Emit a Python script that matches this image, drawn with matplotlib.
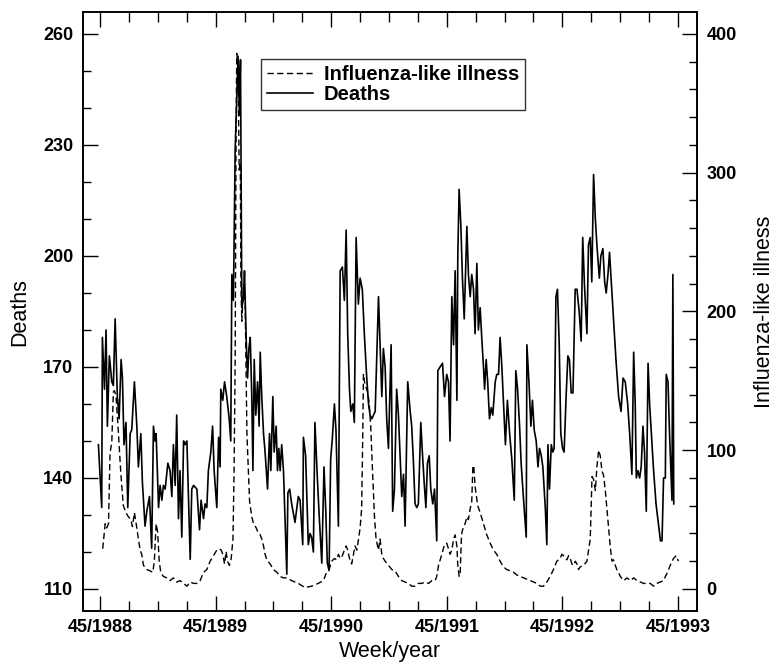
import matplotlib
matplotlib.use('Agg')
import matplotlib.pyplot as plt
from matplotlib.ticker import FixedLocator, MultipleLocator

plt.rcParams['font.family'] = ['Liberation Sans', 'DejaVu Sans']

# (weeks after week 45/1988, value)
deaths_8889 = [
    (-0.75, 149), (0.75, 132), (1.05, 178), (2, 164), (2.7, 180), (3.3, 154), (4.2, 173),
    (5.3, 166), (6, 165), (6.8, 183), (7.8, 162), (8.6, 156), (9.5, 172), (10.1, 167),
    (10.8, 149), (11.7, 155), (12.5, 132), (13.6, 152), (14.3, 153), (15.5, 166), (16.6, 154),
    (17.3, 143), (18.4, 152), (19.1, 139), (20.3, 127), (21.1, 131), (22.3, 135), (23.3, 121),
    (24.1, 154), (24.8, 150), (25.3, 152), (26.4, 132), (27.1, 138), (27.9, 134), (28.6, 138),
    (29.4, 137), (30.6, 144), (31.6, 142), (32.4, 135), (33.1, 149), (33.9, 138), (34.6, 157),
    (35.4, 129), (36.1, 142), (36.9, 124), (37.7, 150), (38.4, 149), (39.2, 150), (40.7, 118),
    (41.4, 137), (42.2, 138), (43.7, 137), (44.9, 126), (45.6, 134), (46.7, 129), (47.4, 133),
    (48.2, 132), (48.9, 142), (50, 147), (50.8, 154), (51.5, 142),
]
deaths_8990 = [
    (52.7, 132), (53.5, 151), (54.2, 143), (54.5, 164), (55.4, 161), (56.2, 166), (57.2, 162),
    (58.3, 156), (59, 150), (59.5, 195), (60.2, 188), (61, 229), (62.3, 254), (62.9, 238),
    (63.4, 253), (64, 186), (64.8, 189), (65.2, 196), (66, 177), (66.6, 167), (67.2, 175),
    (67.8, 178), (68.5, 162), (69, 142), (69.6, 172), (70.3, 157), (71.1, 166), (71.8, 154),
    (72.3, 174), (73, 162), (73.8, 152), (74.5, 147), (75.6, 137), (76.5, 152), (77.1, 142),
    (78, 162), (78.6, 147), (79.5, 154), (80.1, 142), (80.7, 148), (81.3, 142), (82, 149),
    (82.8, 142), (84.3, 114), (84.8, 136), (85.6, 137), (86.5, 133), (88, 128), (89.5, 135),
    (90.3, 134), (91.5, 122), (91.8, 151), (92.8, 146), (94, 122), (94.8, 125), (95.5, 124),
    (96.3, 120), (97, 155), (98.1, 140), (99, 129), (100.1, 117), (101.1, 143), (101.9, 131),
    (102.6, 117), (103.4, 115),
]
deaths_9091 = [
    (104.1, 145), (104.9, 151), (105.8, 160), (106.5, 153), (107.6, 127), (108.4, 196),
    (109.4, 197), (110.3, 188), (111.1, 207), (111.8, 179), (112.6, 164), (113.2, 158),
    (114.1, 160), (114.8, 155), (115.6, 205), (116.6, 187), (117.4, 194), (118.4, 191),
    (119.3, 179), (120.4, 167), (121.2, 160), (121.9, 157), (122.7, 156), (124.2, 158),
    (125.7, 189), (126.4, 176), (127.2, 162), (127.9, 175), (128.7, 170), (129.4, 156),
    (130.2, 148), (131.4, 176), (132.1, 131), (132.9, 137), (133.9, 164), (134.7, 157),
    (135.5, 145), (136.2, 135), (137, 141), (137.7, 127), (138.9, 166), (140, 158),
    (140.7, 154), (141.5, 144), (142.2, 133), (143, 132), (143.7, 133), (144.8, 155),
    (145.5, 147), (146.3, 139), (147.1, 132), (147.8, 144), (148.6, 146), (149.3, 137),
    (150.2, 133), (151, 137), (152, 123), (152.5, 169), (153.5, 170), (154.6, 171),
    (155.5, 162),
]
deaths_9192 = [
    (156.5, 168), (157.3, 166), (158, 150), (158.8, 189), (159.6, 176), (160.3, 196),
    (161.1, 161), (161.5, 200), (162.1, 218), (162.9, 208), (163.6, 194), (164.4, 183),
    (165.6, 208), (166.3, 195), (167.1, 189), (167.8, 195), (168.6, 191), (169.3, 179),
    (170.1, 198), (170.8, 180), (171.6, 186), (172.4, 177), (173.1, 170), (173.6, 164),
    (174.3, 172), (175, 166), (175.8, 156), (176.6, 159), (177.3, 157), (178.4, 166),
    (179.1, 168), (179.9, 168), (180.6, 178), (181.4, 170), (182.1, 161), (183, 149),
    (183.9, 161), (184.9, 152), (185.9, 145), (187, 134), (187.7, 169), (188.5, 164),
    (189.4, 154), (190.1, 144), (191.2, 134), (192.4, 124), (192.7, 176), (193.7, 165),
    (194.5, 154), (195.2, 161), (196, 153), (196.9, 150), (197.7, 143), (198.4, 148),
    (199.2, 146), (199.9, 143), (201, 132), (201.7, 122), (202.2, 149), (202.9, 137),
    (203.7, 149), (204.4, 147), (205, 148), (205.8, 189), (206.5, 191), (207.3, 176),
    (208, 152),
]
deaths_9293 = [
    (208.8, 148), (209.5, 147), (210.4, 162), (211.2, 173), (211.9, 172), (212.7, 163),
    (213.5, 163), (214.5, 191), (215.3, 191), (216.3, 185), (217.2, 177), (217.9, 205),
    (218.7, 192), (219.8, 179), (220.5, 203), (221.3, 205), (222, 193), (222.8, 222),
    (223.6, 210), (224.3, 203), (225.4, 194), (226.1, 200), (227, 202), (227.8, 193),
    (228.5, 190), (229.3, 195), (230, 201), (230.8, 193), (231.8, 183), (232.9, 172),
    (234.1, 162), (235.2, 158), (236.1, 167), (237.1, 166), (238.2, 160), (239.1, 152),
    (240.1, 141), (240.9, 174), (241.6, 160), (242.1, 140), (242.8, 142), (243.6, 140),
    (244.3, 143), (245.1, 154), (245.8, 147), (246.6, 131), (247.4, 171), (248.1, 160),
    (248.9, 152), (249.9, 142), (251, 133), (252.2, 127), (253, 123), (253.7, 123),
    (254.4, 140), (255.2, 140), (255.6, 168), (256.4, 166), (257.1, 152), (257.7, 142),
    (258.2, 134), (258.6, 195), (259, 133),
]

ili_8889 = [
    (1.2, 29), (2.3, 47), (3, 44), (3.8, 47), (4.5, 98), (5.3, 106), (6, 142), (6.5, 143),
    (7.2, 139), (8.3, 112), (9.3, 85), (10.5, 60), (11.7, 55), (12.8, 52), (13.9, 50),
    (14.6, 45), (15.5, 55), (16.3, 47), (17.3, 36), (18.1, 28), (18.8, 25), (19.6, 17),
    (21.1, 14), (22.6, 13), (23.8, 12), (24.5, 20), (25.3, 47), (26, 41), (26.7, 20),
    (27.4, 12), (28.6, 9), (30.1, 8), (31.6, 6), (33.1, 8), (34.6, 5), (36.1, 6), (37.7, 4),
    (39.2, 2), (40.7, 5), (42.2, 4), (43.7, 4), (45.2, 6), (46.7, 12), (48.2, 14),
    (49.7, 20), (51.2, 24),
]
ili_8990 = [
    (52.7, 28), (53.9, 29), (54.7, 28), (55.4, 25), (56.2, 18), (56.9, 27), (57.5, 20),
    (58.4, 17), (59.2, 22), (60, 36), (60.5, 85), (61, 166), (61.3, 275), (61.4, 329),
    (61.7, 386), (62.3, 377), (62.8, 302), (63.3, 307), (63.6, 220), (64, 193), (64.8, 220),
    (65.5, 207), (66.3, 112), (67.5, 63), (68.5, 52), (69.3, 47), (70.5, 44), (71.5, 40),
    (72.3, 39), (73, 36), (73.8, 31), (74.5, 25), (75.3, 21), (76.8, 18), (78.3, 14),
    (79.8, 12), (81.3, 9), (82.8, 8), (84.3, 8), (86.5, 6), (89.5, 4), (92.5, 1), (95.5, 2),
    (98.5, 4), (100.8, 6), (102.3, 12), (103.4, 14),
]
ili_9091 = [
    (104.6, 20), (105.8, 22), (106.8, 21), (107.6, 25), (108.4, 22), (109.4, 24), (110.3, 28),
    (111.1, 31), (111.8, 28), (112.9, 20), (113.6, 18), (114.4, 25), (115.1, 31), (115.9, 28),
    (116.6, 35), (117.4, 44), (118.1, 58), (118.6, 112), (118.9, 155), (119.3, 150),
    (119.9, 146), (120.8, 142), (121.5, 134), (122.2, 117), (123, 85), (123.9, 52),
    (124.6, 36), (125.7, 28), (126.4, 36), (127.2, 25), (127.9, 22), (128.7, 20), (130.2, 17),
    (131.7, 14), (133.2, 13), (134.7, 9), (136.2, 6), (137.7, 5), (139.2, 4), (140.7, 2),
    (142.2, 2), (143.7, 4), (145.2, 4), (146.8, 5), (148.3, 4), (149.8, 6), (151.3, 6),
    (152, 9), (152.8, 17), (154.3, 25), (155.5, 32),
]
ili_9192 = [
    (156.5, 33), (157.3, 29), (158, 25), (158.8, 28), (159.6, 36), (160.3, 39), (161.1, 31),
    (161.5, 17), (162.1, 9), (162.6, 12), (163.1, 36), (163.4, 41), (164.1, 45), (164.8, 47),
    (165.6, 52), (166.3, 50), (167.1, 58), (167.8, 63), (168.3, 88), (168.7, 89), (169.3, 74),
    (170.5, 60), (171.6, 55), (173.1, 47), (174.6, 39), (176.1, 33), (177.6, 28), (179.1, 25),
    (180.6, 20), (182.1, 16), (183.6, 14), (185.2, 13), (186.7, 12), (188.2, 10), (189.7, 9),
    (191.2, 8), (192.7, 7), (194.2, 6), (195.7, 5), (197.2, 4), (198.7, 2), (200.2, 2),
    (201.7, 5), (203.2, 9), (204.7, 14), (206.2, 20), (207.7, 22),
]
ili_9293 = [
    (208.5, 25), (209.2, 24), (210, 22), (210.8, 21), (211.5, 24), (212.3, 22), (213, 18),
    (213.8, 17), (214.5, 20), (215.3, 18), (216, 14), (216.8, 16), (218.3, 17), (219.8, 20),
    (221.3, 36), (222.1, 81), (222.8, 79), (223.6, 71), (224.3, 88), (225.1, 100), (225.8, 96),
    (226.6, 85), (227.3, 82), (228.1, 71), (228.8, 58), (229.6, 44), (230.3, 31), (231.1, 20),
    (231.8, 21), (232.6, 17), (233.3, 14), (234.9, 9), (236.4, 6), (237.9, 8), (239.4, 6),
    (240.9, 8), (242.4, 6), (243.9, 5), (245.4, 4), (246.9, 4), (248.4, 4), (249.9, 2),
    (251.4, 4), (252.9, 5), (254.4, 6), (255.2, 9), (256.2, 12), (257.4, 17), (258.9, 22),
    (260.1, 24), (261.1, 20),
]

year_labels = ['45/1988', '45/1989', '45/1990', '45/1991', '45/1992', '45/1993']
death_ticks = [110, 140, 170, 200, 230, 260]
ili_ticks = [0, 100, 200, 300, 400]
WEEKS_PER_YEAR = 52.18

deaths = deaths_8889 + deaths_8990 + deaths_9091 + deaths_9192 + deaths_9293
ili = ili_8889 + ili_8990 + ili_9091 + ili_9192 + ili_9293

fig = plt.figure(figsize=(7.78, 6.64), dpi=100)
ax = fig.add_axes([0.1067, 0.0798, 0.7892, 0.9014])
ax2 = ax.twinx()

line_d, = ax.plot([p[0] for p in deaths], [p[1] for p in deaths], color='black',
                  lw=1.2, label='Deaths')
line_i, = ax2.plot([p[0] for p in ili], [p[1] for p in ili], color='black',
                   lw=1.0, dashes=(4.5, 2.5), label='Influenza-like illness')

ax.set_xlim(-7.7, 269.5)
ax.set_ylim(104.05, 265.8)
ax2.set_ylim(-15.9, 415.5)

year_ticks = [i * WEEKS_PER_YEAR for i in range(len(year_labels))]
ax.xaxis.set_major_locator(FixedLocator(year_ticks))
ax.xaxis.set_minor_locator(FixedLocator([i * WEEKS_PER_YEAR / 4 for i in range(21)]))
ax.set_xticklabels(year_labels)
ax.yaxis.set_major_locator(FixedLocator(death_ticks))
ax.yaxis.set_minor_locator(MultipleLocator(10))
ax2.yaxis.set_major_locator(FixedLocator(ili_ticks))
ax2.yaxis.set_minor_locator(MultipleLocator(20))

for a in (ax, ax2):
    a.tick_params(which='major', direction='in', length=11, width=1.0,
                  labelsize=13, pad=7)
    a.tick_params(which='minor', direction='in', length=5.5, width=1.0)
    for s in a.spines.values():
        s.set_linewidth(1.2)
ax.tick_params(axis='x', which='both', top=True)
ax.tick_params(axis='x', which='major', pad=6)
ax.tick_params(axis='x', which='minor', length=7)
ax.tick_params(axis='y', which='both', right=False)
for lbl in ax.get_xticklabels() + ax.get_yticklabels() + ax2.get_yticklabels():
    lbl.set_fontweight('bold')

ax.set_xlabel('Week/year', fontsize=15.5, labelpad=3)
ax.set_ylabel('Deaths', fontsize=15.5, labelpad=9)
ax2.set_ylabel('Influenza-like illness', fontsize=15.5, labelpad=12)

leg = ax.legend([line_i, line_d], ['Influenza-like illness', 'Deaths'],
                loc='upper left', bbox_to_anchor=(0.29, 0.922),
                prop={'weight': 'bold', 'size': 14.5}, frameon=True, fancybox=False,
                handlelength=2.3, handletextpad=0.5, borderpad=0.3, labelspacing=0.05,
                borderaxespad=0)
leg.get_frame().set_edgecolor('black')
leg.get_frame().set_linewidth(1.0)

fig.savefig('out.png', dpi=100)
